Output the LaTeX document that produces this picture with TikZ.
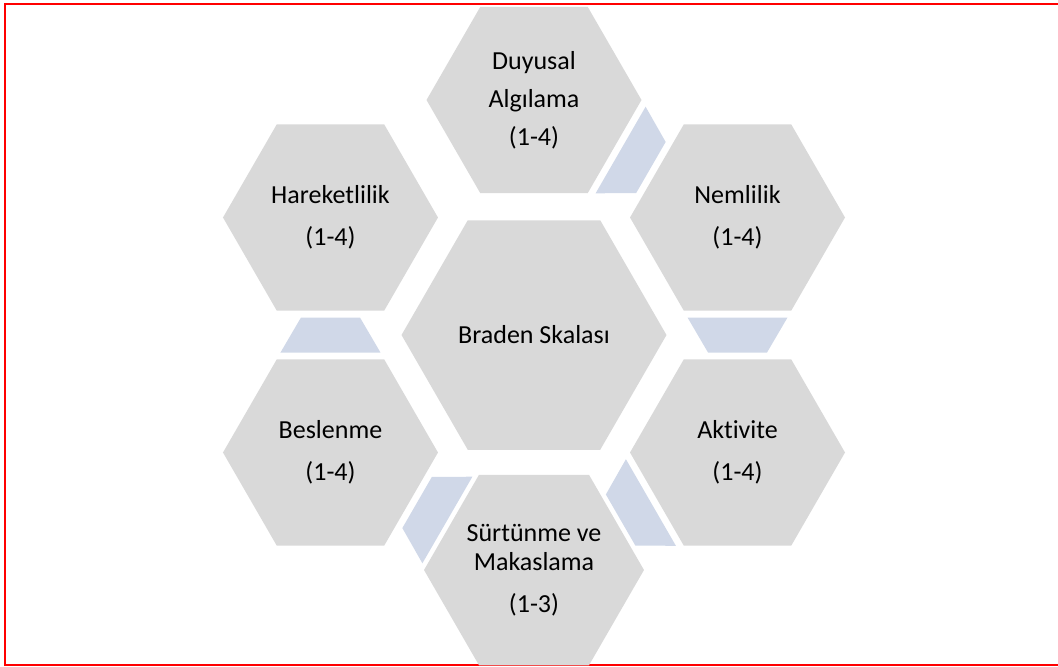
\documentclass[tikz,border=0pt]{standalone}
\usepackage{fontspec}
\setmainfont{Carlito}[Ligatures=NoCommon]
\usepackage{xcolor}
\usepackage{tikz}
\usetikzlibrary{shapes.geometric,calc}
\definecolor{hexgray}{HTML}{D9D9D9}
\definecolor{linkblue}{HTML}{D0D8E8}
\tikzset{
  hexa/.style={regular polygon, regular polygon sides=6, fill=hexgray, inner sep=0pt, outer sep=0pt, minimum size=107.5pt, font=\fontsize{13}{21}\selectfont, align=center},
  hexbig/.style={hexa, minimum size=132.5pt},
  link/.style={fill=linkblue}
}
\newcommand{\hexlink}[3]{%
  \begin{scope}[shift={($(#1)!0.5!(#2)$)}, rotate=#3]
    \fill[link] (-17.5,50) -- (17.5,29.5) -- (17.5,-29.5) -- (-17.5,-50) -- cycle;
  \end{scope}}

\begin{document}
\begin{tikzpicture}[x=0.5pt,y=0.5pt]
    \useasboundingbox (-534,-331) rectangle (524,335);
    \draw[red, line width=1pt] (540,331.25) -- (-528.5,331.25) -- (-528.5,-330) -- (540,-330);

    \node[hexbig] (braden) at (0,0) {Braden Skalası};
    \node[hexa] (duyusal) at (90:235) {Duyusal\\[-2pt]Algılama\\[-2pt](1-4)};
    \node[hexa] (nemlilik) at (30:235) {Nemlilik\\(1-4)};
    \node[hexa] (aktivite) at (-30:235) {Aktivite\\(1-4)};
    \node[hexa] (surtunme) at (-90:235) {Sürtünme ve\\[-6.5pt]Makaslama\\(1-3)};
    \node[hexa] (beslenme) at (-150:235) {Beslenme\\(1-4)};
    \node[hexa] (hareket) at (150:235) {Hareketlilik\\(1-4)};

    % links between neighbours, wide end at the first one
    \hexlink{duyusal}{nemlilik}{-30}
    \hexlink{nemlilik}{aktivite}{-90}
    \hexlink{aktivite}{surtunme}{210}
    \hexlink{surtunme}{beslenme}{150}
    \hexlink{beslenme}{hareket}{90}
\end{tikzpicture}
\end{document}
